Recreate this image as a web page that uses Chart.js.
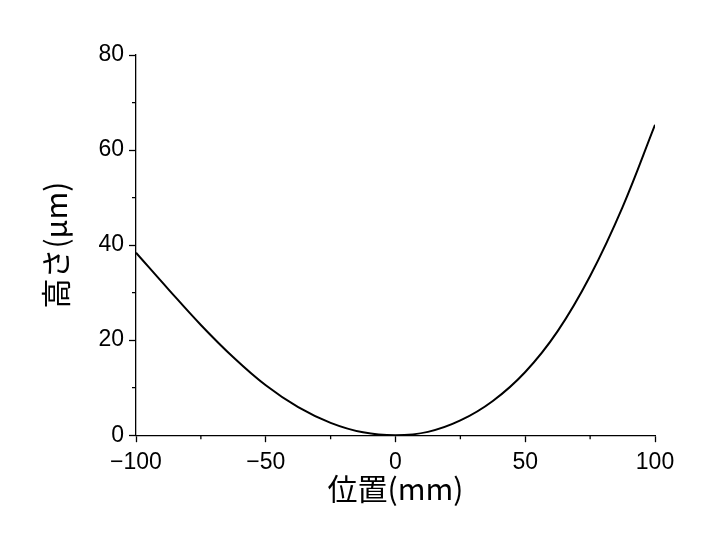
<!DOCTYPE html>
<html>
<head>
<meta charset="utf-8">
<script src="https://cdn.jsdelivr.net/npm/chart.js@4"></script>
<style>
  html, body { margin: 0; padding: 0; background: #fff; }
  #wrap { width: 720px; height: 540px; }
</style>
</head>
<body>
<div id="wrap"><canvas id="profileChart"></canvas></div>
<script>
// position (mm) and height (um)
const positions = [-100, -87.5, -75, -62.5, -50, -37.5, -25, -12.5, 0, 12.5, 25, 37.5, 50, 62.5, 75, 87.5, 100];
const heights   = [38.4, 30.7, 23.2, 16.4, 10.5, 5.9, 2.6, 0.6, 0, 0.7, 3.1, 7.2, 13.3, 21.9, 33.5, 48.0, 65.3];

const xMajorTicks = [-100, -50, 0, 50, 100];
const xMinorTicks = [-75, -25, 25, 75];
const yMajorTicks = [0, 20, 40, 60, 80];
const yMinorTicks = [10, 30, 50, 70];

const xTitle = '位置(mm)';
const yTitle = '高さ(μm)';

const TICK_FONT = { family: "'Liberation Sans', Arial, sans-serif", size: 23 };
const TITLE_FONT = { family: "'Noto Sans CJK JP', sans-serif", size: 30 };

// short outward ticks between the labelled ones
const minorTicks = {
  id: 'minorTicks',
  afterDraw(chart) {
    const { ctx, chartArea, scales: { x, y } } = chart;
    ctx.save();
    ctx.strokeStyle = '#000';
    ctx.lineWidth = 1.3;
    ctx.beginPath();
    xMinorTicks.forEach(v => {
      const px = x.getPixelForValue(v);
      ctx.moveTo(px, chartArea.bottom);
      ctx.lineTo(px, chartArea.bottom + 4);
    });
    yMinorTicks.forEach(v => {
      const py = y.getPixelForValue(v);
      ctx.moveTo(chartArea.left, py);
      ctx.lineTo(chartArea.left - 4, py);
    });
    ctx.stroke();
    ctx.restore();
  }
};

new Chart(document.getElementById('profileChart'), {
  type: 'line',
  data: {
    datasets: [{
      data: positions.map((p, i) => ({ x: p, y: heights[i] })),
      borderColor: '#000',
      borderWidth: 2,
      pointRadius: 0,
      fill: false,
      tension: 0.4,
    }]
  },
  options: {
    responsive: true,
    maintainAspectRatio: false,
    animation: false,
    layout: { padding: { left: 34, right: 65, top: 55, bottom: 29 } },
    plugins: {
      legend: { display: false },
      tooltip: { enabled: false }
    },
    scales: {
      x: {
        type: 'linear',
        min: -100, max: 100,
        afterBuildTicks: s => { s.ticks = xMajorTicks.map(v => ({ value: v })); },
        afterFit: s => { s.height = 75.8; },
        border: { display: true, color: '#000', width: 1.3 },
        grid: { drawOnChartArea: false, drawTicks: true, tickLength: 7, tickColor: '#000', tickWidth: 1.3 },
        ticks: {
          color: '#000', font: TICK_FONT, padding: 7, maxRotation: 0,
          callback: v => v < 0 ? '\u2212' + Math.abs(v) : String(v)
        },
        title: { display: true, text: xTitle, color: '#000', font: TITLE_FONT, padding: { top: 0, bottom: 4 } }
      },
      y: {
        type: 'linear',
        min: 0, max: 80,
        afterBuildTicks: s => { s.ticks = yMajorTicks.map(v => ({ value: v })); },
        afterFit: s => { s.width = 102; },
        border: { display: true, color: '#000', width: 1.3 },
        grid: { drawOnChartArea: false, drawTicks: true, tickLength: 7, tickColor: '#000', tickWidth: 1.3 },
        ticks: { color: '#000', font: TICK_FONT, padding: 5 },
        title: { display: true, text: yTitle, color: '#000', font: TITLE_FONT, padding: { top: 4, bottom: 0 } }
      }
    }
  },
  plugins: [minorTicks]
});
</script>
</body>
</html>
